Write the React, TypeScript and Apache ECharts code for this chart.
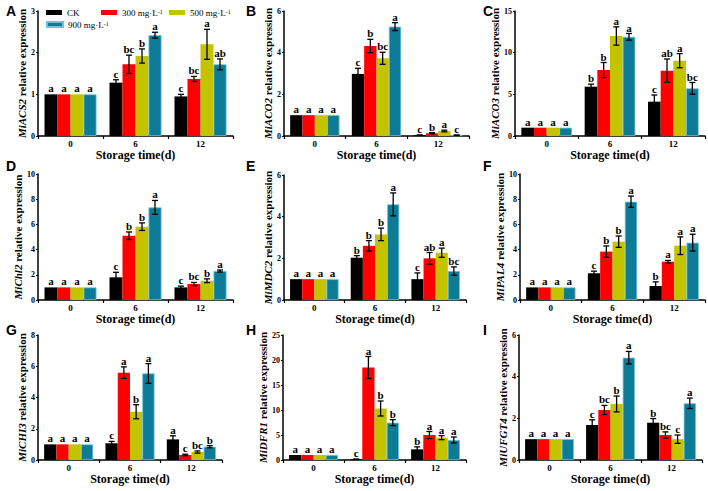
import React, { useEffect, useRef } from 'react';
import * as echarts from 'echarts';

const CATEGORIES = ['0', '6', '12'];
const TREATMENTS = ['CK', '300 mg·L-1', '500 mg·L-1', '900 mg·L-1'];
const COLORS = ['#000000', '#ff0000', '#c3c300', '#0d7b95'];
const GENES = ['MiACS2', 'MiACO2', 'MiACO3', 'MiChl2', 'MiMDC2', 'MiPAL4', 'MiCHI3', 'MiDFR1', 'MiUFGT4'];
const PANEL_LETTERS = ['A', 'B', 'C', 'D', 'E', 'F', 'G', 'H', 'I'];
const Y_MAX = [3, 6, 15, 10, 6, 10, 8, 25, 6];
const Y_STEP = [1, 2, 5, 2, 2, 2, 2, 5, 2];

// rows: storage time 0, 6, 12 ; columns: CK, 300, 500, 900
const ACS2_MEAN = [[1, 1, 1, 1], [1.28, 1.72, 1.92, 2.42], [0.95, 1.37, 2.2, 1.72]];
const ACS2_ERR = [[0, 0, 0, 0], [0.07, 0.22, 0.17, 0.07], [0.05, 0.06, 0.36, 0.13]];
const ACS2_SIG = [['a', 'a', 'a', 'a'], ['c', 'bc', 'b', 'a'], ['c', 'bc', 'a', 'ab']];

const ACO2_MEAN = [[1, 1, 1, 1], [2.98, 4.32, 3.73, 5.25], [0.04, 0.13, 0.24, 0.04]];
const ACO2_ERR = [[0, 0, 0, 0], [0.27, 0.32, 0.29, 0.19], [0.01, 0.03, 0.04, 0.01]];
const ACO2_SIG = [['a', 'a', 'a', 'a'], ['c', 'b', 'bc', 'a'], ['c', 'b', 'a', 'c']];

const ACO3_MEAN = [[1, 1, 1, 1], [5.92, 7.92, 12.0, 11.9], [4.12, 7.84, 9.04, 5.72]];
const ACO3_ERR = [[0, 0, 0, 0], [0.3, 0.9, 1.1, 0.4], [0.8, 1.4, 0.85, 0.7]];
const ACO3_SIG = [['a', 'a', 'a', 'a'], ['b', 'b', 'a', 'a'], ['c', 'ab', 'a', 'bc']];

const CHL2_MEAN = [[1, 1, 1, 1], [1.8, 5.1, 5.82, 7.35], [1.0, 1.27, 1.53, 2.3]];
const CHL2_ERR = [[0, 0, 0, 0], [0.4, 0.3, 0.3, 0.55], [0.1, 0.12, 0.15, 0.08]];
const CHL2_SIG = [['a', 'a', 'a', 'a'], ['c', 'b', 'b', 'a'], ['c', 'bc', 'b', 'a']];

const MDC2_MEAN = [[1, 1, 1, 1], [2.03, 2.6, 3.15, 4.59], [1.0, 2.0, 2.27, 1.39]];
const MDC2_ERR = [[0, 0, 0, 0], [0.1, 0.25, 0.3, 0.55], [0.3, 0.28, 0.22, 0.2]];
const MDC2_SIG = [['a', 'a', 'a', 'a'], ['b', 'b', 'b', 'a'], ['c', 'ab', 'a', 'bc']];

const PAL4_MEAN = [[1, 1, 1, 1], [2.12, 3.84, 4.63, 7.8], [1.11, 3.04, 4.31, 4.55]];
const PAL4_ERR = [[0, 0, 0, 0], [0.17, 0.45, 0.45, 0.45], [0.33, 0.1, 0.7, 0.67]];
const PAL4_SIG = [['a', 'a', 'a', 'a'], ['c', 'b', 'b', 'a'], ['b', 'a', 'a', 'a']];

const CHI3_MEAN = [[1, 1, 1, 1], [1.07, 5.59, 3.09, 5.54], [1.32, 0.32, 0.51, 0.85]];
const CHI3_ERR = [[0, 0, 0, 0], [0.12, 0.37, 0.45, 0.63], [0.23, 0.05, 0.07, 0.07]];
const CHI3_SIG = [['a', 'a', 'a', 'a'], ['c', 'a', 'b', 'a'], ['a', 'c', 'bc', 'b']];

const DFR1_MEAN = [[1, 1, 1, 1], [0.15, 18.5, 10.3, 7.47], [2.13, 5.0, 4.47, 4.0]];
const DFR1_ERR = [[0, 0, 0, 0], [0.05, 2.2, 1.5, 0.6], [0.5, 0.7, 0.4, 0.6]];
const DFR1_SIG = [['a', 'a', 'a', 'a'], ['c', 'a', 'b', 'b'], ['b', 'a', 'a', 'a']];

const UFGT4_MEAN = [[1, 1, 1, 1], [1.68, 2.4, 2.69, 4.91], [1.79, 1.2, 1.0, 2.72]];
const UFGT4_ERR = [[0, 0, 0, 0], [0.25, 0.22, 0.38, 0.3], [0.2, 0.15, 0.2, 0.25]];
const UFGT4_SIG = [['a', 'a', 'a', 'a'], ['c', 'bc', 'b', 'a'], ['b', 'bc', 'c', 'a']];

const MEANS = [ACS2_MEAN, ACO2_MEAN, ACO3_MEAN, CHL2_MEAN, MDC2_MEAN, PAL4_MEAN, CHI3_MEAN, DFR1_MEAN, UFGT4_MEAN];
const ERRS = [ACS2_ERR, ACO2_ERR, ACO3_ERR, CHL2_ERR, MDC2_ERR, PAL4_ERR, CHI3_ERR, DFR1_ERR, UFGT4_ERR];
const SIGS = [ACS2_SIG, ACO2_SIG, ACO3_SIG, CHL2_SIG, MDC2_SIG, PAL4_SIG, CHI3_SIG, DFR1_SIG, UFGT4_SIG];

// layout: [left, top, right, bottom] in px
const LAYOUT = [
  [38, 11, 233, 136], [284, 11, 469, 136], [515, 11, 705, 136],
  [38, 174, 233, 300], [284, 175, 466, 300], [520, 174, 705, 300],
  [38, 335, 222, 460], [283, 335, 466, 460], [519, 335, 702, 460],
];
const LETTER_POS = [
  [6, 4], [246, 4], [483, 4],
  [6, 159], [246, 159], [483, 159],
  [6, 323], [246, 323], [483, 323],
];

const SERIF = '"Liberation Serif", "Times New Roman", serif';
const BAR_FRAC = 0.2;

function makeRenderItem(sig: string[][]) {
  return (params: any, api: any) => {
    const cat = api.value(0);
    const t = api.value(1);
    const v = api.value(2);
    const e = api.value(3);
    const band = api.size([1, 0])[0];
    const bw = band * BAR_FRAC;
    const cx = api.coord([cat, v])[0] + (t - 1.5) * bw;
    const top = api.coord([cat, v + e])[1];
    const bot = api.coord([cat, Math.max(0, v - e)])[1];
    const cap = 3;
    const ls = { stroke: '#000', lineWidth: 1.3 };
    const children: any[] = [];
    if (e > 0) {
      children.push({ type: 'line', shape: { x1: cx, y1: top, x2: cx, y2: bot }, style: ls });
      children.push({ type: 'line', shape: { x1: cx - cap, y1: top, x2: cx + cap, y2: top }, style: ls });
      children.push({ type: 'line', shape: { x1: cx - cap, y1: bot, x2: cx + cap, y2: bot }, style: ls });
    }
    children.push({
      type: 'text',
      x: cx,
      y: top - 2,
      style: {
        text: sig[cat][t],
        font: `bold 11px ${SERIF}`,
        lineHeight: 8,
        fill: '#000',
        align: 'center',
        verticalAlign: 'bottom',
      },
    });
    return { type: 'group', children };
  };
}

function legendFormatter(name: string) {
  if (name.endsWith('-1')) {
    return `{n|${name.slice(0, -2)}}{s|-1}`;
  }
  return `{n|${name}}`;
}

export default function App() {
  const ref = useRef<HTMLDivElement>(null);
  useEffect(() => {
    if (!ref.current) return;
    const chart = echarts.init(ref.current, null, { renderer: 'svg' });
    const grid: any[] = [];
    const xAxis: any[] = [];
    const yAxis: any[] = [];
    const series: any[] = [];
    LAYOUT.forEach((l, p) => {
      grid.push({ left: l[0], top: l[1], width: l[2] - l[0], height: l[3] - l[1], containLabel: false });
      xAxis.push({
        type: 'category',
        gridIndex: p,
        data: CATEGORIES,
        axisLine: { lineStyle: { color: '#000', width: 1.5 } },
        axisTick: { show: true, length: 3, lineStyle: { color: '#000', width: 1.2 } },
        axisLabel: { color: '#000', fontFamily: SERIF, fontWeight: 'bold', fontSize: 9, margin: 3 },
        name: 'Storage time(d)',
        nameLocation: 'middle',
        nameGap: 12,
        nameTextStyle: { color: '#000', fontFamily: SERIF, fontWeight: 'bold', fontSize: 12 },
      });
      yAxis.push({
        type: 'value',
        gridIndex: p,
        min: 0,
        max: Y_MAX[p],
        interval: Y_STEP[p],
        splitLine: { show: false },
        axisLine: { show: true, lineStyle: { color: '#000', width: 1.5 } },
        axisTick: { show: true, length: 2, lineStyle: { color: '#000', width: 1.2 } },
        axisLabel: { color: '#000', fontFamily: SERIF, fontWeight: 'bold', fontSize: 8, margin: 3 },
        name: `{i|${GENES[p]}}{b| relative expression}`,
        nameLocation: 'middle',
        nameGap: 11,
        nameTextStyle: {
          rich: {
            i: { fontFamily: SERIF, fontStyle: 'italic', fontWeight: 'bold', fontSize: 11, color: '#000' },
            b: { fontFamily: SERIF, fontWeight: 'bold', fontSize: 11, color: '#000' },
          },
        },
      });
      TREATMENTS.forEach((name, t) => {
        series.push({
          type: 'bar',
          name,
          xAxisIndex: p,
          yAxisIndex: p,
          barWidth: `${BAR_FRAC * 100}%`,
          barGap: '0%',
          itemStyle: t === 3
            ? { color: COLORS[t], borderColor: '#6cc3da', borderWidth: 0.8 }
            : { color: COLORS[t] },
          data: MEANS[p].map((row) => row[t]),
        });
      });
      const data: number[][] = [];
      MEANS[p].forEach((row, c) => row.forEach((v, t) => data.push([c, t, v, ERRS[p][c][t]])));
      series.push({
        type: 'custom',
        xAxisIndex: p,
        yAxisIndex: p,
        renderItem: makeRenderItem(SIGS[p]),
        encode: { x: 0, y: 2 },
        data,
        z: 10,
        clip: false,
        silent: true,
      });
    });
    const legendPos = [[46, 8], [101, 8], [169, 8], [46, 20]];
    const legend = TREATMENTS.map((name, t) => ({
      data: [name],
      left: legendPos[t][0],
      top: legendPos[t][1],
      icon: 'rect',
      itemWidth: 16,
      itemHeight: 5,
      padding: 0,
      selectedMode: false,
      formatter: legendFormatter,
      textStyle: {
        rich: {
          n: { fontFamily: SERIF, fontSize: 9, color: '#000', lineHeight: 8 },
          s: { fontFamily: SERIF, fontSize: 6, color: '#000', lineHeight: 5, verticalAlign: 'top' },
        },
      },
    }));
    const graphic = PANEL_LETTERS.map((txt, i) => ({
      type: 'text',
      left: LETTER_POS[i][0],
      top: LETTER_POS[i][1],
      style: { text: txt, font: 'bold 14px "Liberation Sans", Arial, sans-serif', fill: '#000' },
    }));
    chart.setOption({
      animation: false,
      backgroundColor: '#ffffff',
      grid,
      xAxis,
      yAxis,
      series,
      legend,
      graphic,
    });
    return () => chart.dispose();
  }, []);
  return <div ref={ref} style={{ position: 'fixed', left: 0, top: 0, width: 708, height: 491 }} />;
}
